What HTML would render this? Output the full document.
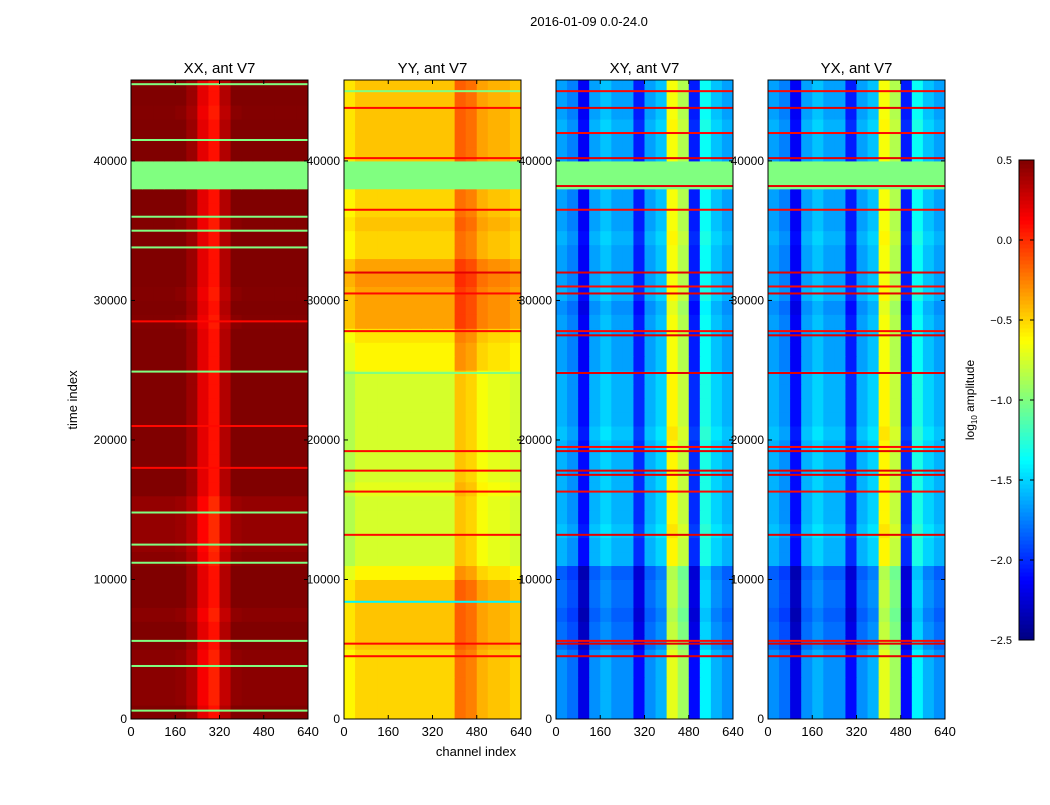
<!DOCTYPE html>
<html><head><meta charset="utf-8">
<style>
body{margin:0;background:#fff;font-family:"Liberation Sans",sans-serif}
svg text{font-family:"Liberation Sans",sans-serif;fill:#000}
</style></head>
<body>
<svg id="fig" width="1050" height="800" xmlns="http://www.w3.org/2000/svg">
<rect width="1050" height="800" fill="#fff"/>
<text x="589" y="26" font-size="13" text-anchor="middle">2016-01-09 0.0-24.0</text>
<text transform="translate(77,400) rotate(-90)" font-size="13" text-anchor="middle">time index</text>
<text x="476" y="756" font-size="13" text-anchor="middle">channel index</text>
<g id="panels"></g>
<g id="cbar"></g>
</svg>
<script>
// ---- data ----
const panelTitles = ["XX, ant V7","YY, ant V7","XY, ant V7","YX, ant V7"];
const xTicks = [0,160,320,480,640];
const yTicks = [0,10000,20000,30000,40000];
const cbarTicks = [0.5,0.0,-0.5,-1.0,-1.5,-2.0,-2.5];
const cbarTickLabels = ["0.5","0.0","\u22120.5","\u22121.0","\u22121.5","\u22122.0","\u22122.5"];
const flagValue = -1.0;
// row levels per 1000 time samples (null = flagged)
const rowsXX = [0,-0.05,-0.05,-0.05,-0.05,0,0,-0.05,0,0,0,-0.05,-0.08,-0.08,-0.08,-0.08,0,0,0,0,0,0,0,0,0,0,0,0,-0.03,0,-0.03,0,0,0,0,-0.03,0,0,null,null,0,0,0,-0.03,0,0];
const rowsYY = [-0.5,-0.5,-0.5,-0.5,-0.5,-0.45,-0.45,-0.45,-0.45,-0.45,-0.6,-0.75,-0.75,-0.75,-0.75,-0.75,-0.7,-0.75,-0.75,-0.75,-0.75,-0.75,-0.75,-0.75,-0.75,-0.6,-0.6,-0.55,-0.35,-0.35,-0.35,-0.3,-0.35,-0.5,-0.5,-0.45,-0.5,-0.5,null,null,-0.45,-0.45,-0.45,-0.45,-0.45,-0.45];
const rowsXY = [-0.1,-0.1,-0.1,-0.1,-0.1,-0.2,-0.2,-0.25,-0.2,-0.2,-0.25,0,0,0.05,0,0,0,0,0,0,0.05,0,0,0,0,-0.05,-0.05,-0.05,-0.05,-0.1,0,-0.05,-0.05,-0.05,0,-0.05,-0.05,-0.05,null,null,-0.05,-0.05,0,-0.05,-0.05,-0.05];
const rowsYX = [-0.1,-0.1,-0.1,-0.1,-0.1,-0.2,-0.2,-0.25,-0.2,-0.2,-0.25,0,0,0.05,0,0,0,0,0,0,0.05,0,0,0,0,-0.05,-0.05,-0.05,-0.05,-0.1,0,-0.05,-0.05,-0.05,0,-0.05,-0.05,-0.05,null,null,-0.05,-0.05,0,-0.05,-0.05,-0.05];
// column profiles per 40 channels
const colsXX = [0.52,0.52,0.52,0.52,0.5,0.42,0.2,0.08,0.35,0.5,0.52,0.52,0.52,0.52,0.52,0.52];
const colsYY = [-0.1,0,0,0,0,0,0,0,0,0,0.3,0.25,0.1,0.05,0.05,0];
const colsXY = [-1.6,-1.7,-2.1,-1.6,-1.5,-1.6,-1.6,-2.0,-1.6,-1.5,-0.6,-0.8,-2.0,-1.3,-1.5,-1.6];
const colsYX = [-1.6,-1.7,-2.1,-1.6,-1.5,-1.6,-1.6,-2.0,-1.6,-1.5,-0.6,-0.8,-2.0,-1.3,-1.5,-1.6];
const baseXX = 0, baseYY = 0, baseXY = 0, baseYX = 0;
// thin horizontal lines: time index and level
const lineTimesXX = [600,3800,5600,11200,12500,14800,18000,21000,24900,28500,33800,35000,36000,41500,45500];
const lineValsXX = [-1.0,-1.0,-1.0,-1.0,-1.0,-1.0,0.1,0.1,-1.0,0.1,-1.0,-1.0,-1.0,-1.0,-1.0];
const lineTimesYY = [4500,5400,8400,13200,16300,17800,19200,24800,27800,30500,32000,36500,40200,43800,45000];
const lineValsYY = [0.1,0.1,-1.4,0.1,0.1,0.1,0.1,-1.0,0.1,0.1,0.2,0.1,0.1,0.1,-1.0];
const lineTimesXY = [4500,5400,5600,13200,16300,17500,17800,19200,19500,24800,27500,27800,30500,31000,32000,36500,38200,40200,42000,43800,45000];
const lineValsXY = [0.2,0.2,0.1,0.2,0.1,0.2,0.2,0.2,0.1,0.2,0.2,0.1,0.2,0.1,0.2,0.1,0.2,0.2,0.1,0.2,0.1];
const lineTimesYX = [4500,5400,5600,13200,16300,17500,17800,19200,19500,24800,27500,27800,30500,31000,32000,36500,38200,40200,42000,43800,45000];
const lineValsYX = [0.2,0.2,0.1,0.2,0.1,0.2,0.2,0.2,0.1,0.2,0.2,0.1,0.2,0.1,0.2,0.1,0.2,0.2,0.1,0.2,0.1];

const panelX = [131,344,556,768];
const panelW = 177, plotTop = 80, plotBottom = 719;
const tMax = 45800, chMax = 640, binCh = 40, binT = 1000;
const vMin = -2.5, vMax = 0.5;

function jet(v){
  let t = (v - vMin)/(vMax - vMin); t = Math.max(0,Math.min(1,t));
  const f = x => Math.max(0,Math.min(1,x));
  const r = f(1.5 - Math.abs(4*t-3)), g = f(1.5 - Math.abs(4*t-2)), b = f(1.5 - Math.abs(4*t-1));
  return `rgb(${Math.round(r*255)},${Math.round(g*255)},${Math.round(b*255)})`;
}
const ys = t => plotBottom - (t/tMax)*(plotBottom-plotTop);
const NS = "http://www.w3.org/2000/svg";
function mk(tag, attrs, parent){const e=document.createElementNS(NS,tag);for(const k in attrs)e.setAttribute(k,attrs[k]);parent.appendChild(e);return e;}

const panelsData = [
 {rows:rowsXX, cols:colsXX, base:baseXX, lt:lineTimesXX, lv:lineValsXX},
 {rows:rowsYY, cols:colsYY, base:baseYY, lt:lineTimesYY, lv:lineValsYY},
 {rows:rowsXY, cols:colsXY, base:baseXY, lt:lineTimesXY, lv:lineValsXY},
 {rows:rowsYX, cols:colsYX, base:baseYX, lt:lineTimesYX, lv:lineValsYX}
];
const gp = document.getElementById('panels');
panelsData.forEach((pd,pi)=>{
  const x0 = panelX[pi];
  const xs = c => x0 + (c/chMax)*panelW;
  const g = mk('g',{},gp);
  
  
  const cp = mk('clipPath',{id:'cp'+pi},g);
  mk('rect',{x:x0,y:plotTop,width:panelW,height:plotBottom-plotTop},cp);
  const cg = mk('g',{'clip-path':`url(#cp${pi})`},g);
  pd.rows.forEach((rv,r)=>{
    pd.cols.forEach((cv,c)=>{
      const v = rv===null ? flagValue : pd.base + rv + cv;
      const y1 = ys((r+1)*binT), y2 = ys(r*binT);
      const cell = mk('rect',{x:xs(c*binCh),y:y1,width:xs((c+1)*binCh)-xs(c*binCh)+0.5,height:y2-y1+0.5,fill:jet(v)},cg);
      
      
    });
  });
  pd.lt.forEach((t,i)=>{
    const ln = mk('rect',{x:x0,y:ys(t)-1,width:panelW,height:2,fill:jet(pd.lv[i])},cg);
    
    
  });
  mk('rect',{x:x0,y:plotTop,width:panelW,height:plotBottom-plotTop,fill:'none',stroke:'#000','stroke-width':1},g);
  const tt = mk('text',{x:x0+panelW/2,y:plotTop-7,'font-size':15,'text-anchor':'middle'},g);
  tt.textContent = panelTitles[pi];
  
  
  xTicks.forEach(v=>{
    const x = xs(v);
    mk('line',{x1:x,x2:x,y1:plotBottom,y2:plotBottom-4,stroke:'#000'},g);
    mk('line',{x1:x,x2:x,y1:plotTop,y2:plotTop+4,stroke:'#000'},g);
    const t = mk('text',{x:x,y:plotBottom+17,'font-size':13,'text-anchor':'middle'},g);
    t.textContent = v;
    
    
  });
  yTicks.forEach(v=>{
    const y = ys(v);
    mk('line',{x1:x0,x2:x0+4,y1:y,y2:y,stroke:'#000'},g);
    mk('line',{x1:x0+panelW,x2:x0+panelW-4,y1:y,y2:y,stroke:'#000'},g);
    const t = mk('text',{x:x0-4,y:y+4,'font-size':12,'text-anchor':'end'},g);
    t.textContent = v;
    
    
  });
});
// colorbar
const cb = document.getElementById('cbar');


const cbX=1019, cbW=15, cbT=160, cbB=640;
const cys = v => cbB - (v - vMin)/(vMax - vMin)*(cbB-cbT);
for(let i=0;i<120;i++){
  const v0 = vMin + (vMax-vMin)*i/120, v1 = vMin + (vMax-vMin)*(i+1)/120;
  mk('rect',{x:cbX,y:cys(v1),width:cbW,height:cys(v0)-cys(v1)+0.5,fill:jet((v0+v1)/2)},cb);
}
mk('rect',{x:cbX,y:cbT,width:cbW,height:cbB-cbT,fill:'none',stroke:'#000'},cb);
cbarTicks.forEach((v,i)=>{
  const y = cys(v);
  mk('line',{x1:cbX,x2:cbX+4,y1:y,y2:y,stroke:'#000'},cb);
  mk('line',{x1:cbX+cbW,x2:cbX+cbW-4,y1:y,y2:y,stroke:'#000'},cb);
  const t = mk('text',{x:cbX-7,y:y+4,'font-size':11,'text-anchor':'end'},cb);
  t.textContent = cbarTickLabels[i];
  
  
});
const cl = mk('text',{transform:'translate(974,400) rotate(-90)','font-size':12,'text-anchor':'middle'},cb);
cl.innerHTML = 'log<tspan font-size="8" dy="3">10</tspan><tspan dy="-3"> amplitude</tspan>';


</script>
</body></html>
